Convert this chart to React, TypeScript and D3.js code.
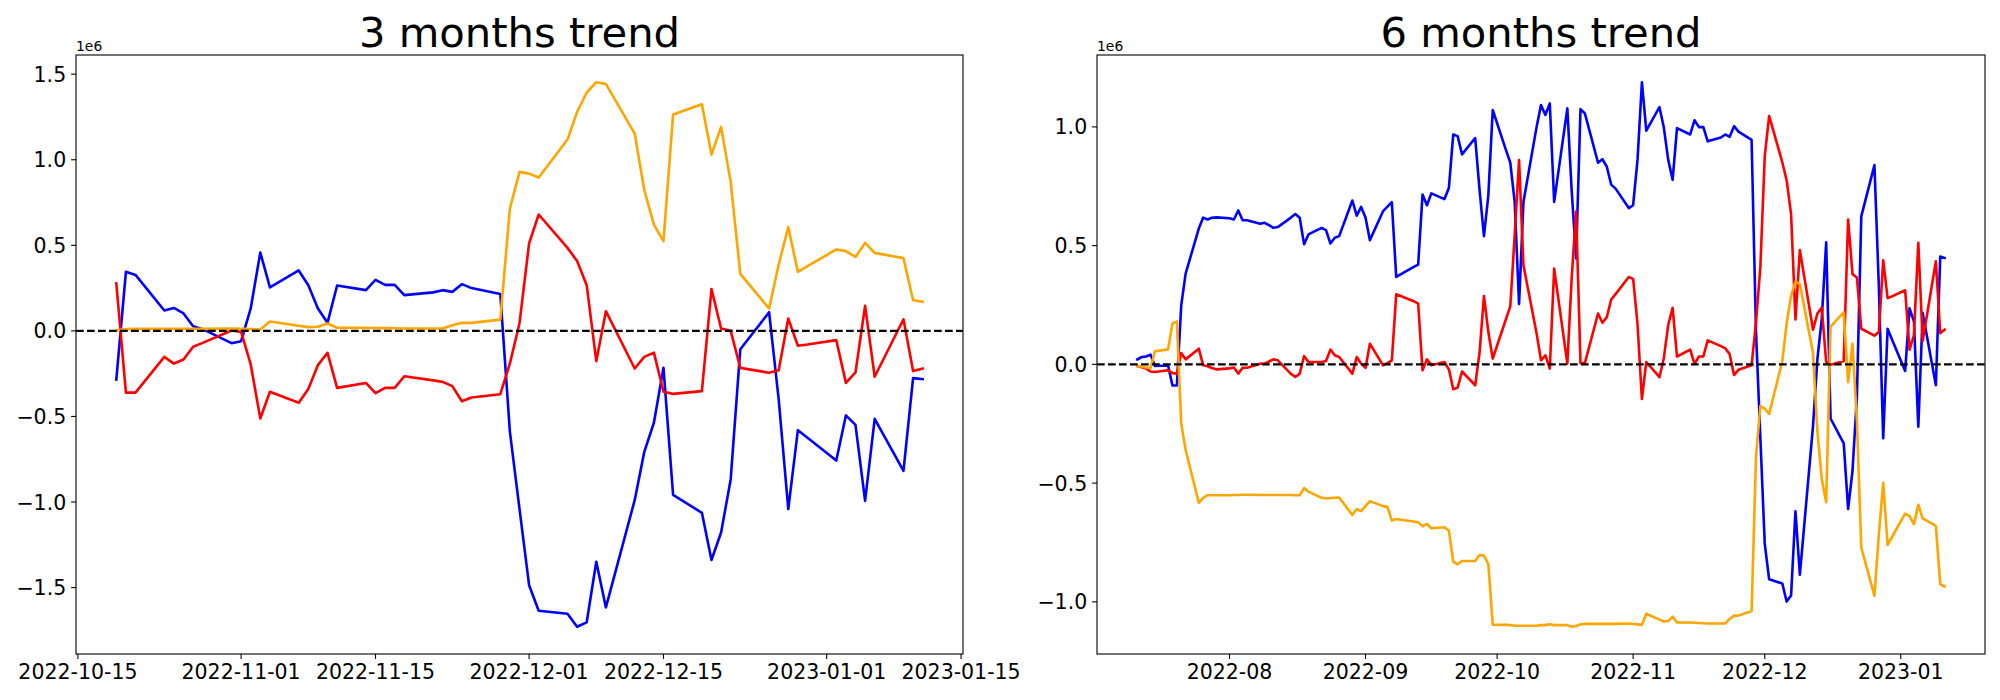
import React from "react";
import * as d3 from "d3";

// values are in units of 1e6
const dates6Early = [
  "2022-07-11","2022-07-12","2022-07-13","2022-07-14","2022-07-15",
  "2022-07-18","2022-07-19","2022-07-20","2022-07-21","2022-07-22",
  "2022-07-25","2022-07-26","2022-07-27","2022-07-28","2022-07-29",
  "2022-08-01","2022-08-02","2022-08-03","2022-08-04","2022-08-05",
  "2022-08-08","2022-08-09","2022-08-10","2022-08-11","2022-08-12",
  "2022-08-15","2022-08-16","2022-08-17","2022-08-18","2022-08-19",
  "2022-08-22","2022-08-23","2022-08-24","2022-08-25","2022-08-26",
  "2022-08-29","2022-08-30","2022-08-31","2022-09-01","2022-09-02",
  "2022-09-05","2022-09-06","2022-09-07","2022-09-08","2022-09-09",
  "2022-09-12","2022-09-13","2022-09-14","2022-09-15","2022-09-16",
  "2022-09-19","2022-09-20","2022-09-21","2022-09-22","2022-09-23",
  "2022-09-26","2022-09-27","2022-09-28","2022-09-29","2022-09-30",
  "2022-10-03","2022-10-04","2022-10-05","2022-10-06","2022-10-07",
  "2022-10-10","2022-10-11","2022-10-12","2022-10-13","2022-10-14",
  "2022-10-17","2022-10-18",
];

const dates3 = [
  "2022-10-19","2022-10-20","2022-10-21",
  "2022-10-24","2022-10-25","2022-10-26","2022-10-27","2022-10-28",
  "2022-10-31","2022-11-01","2022-11-02","2022-11-03","2022-11-04",
  "2022-11-07","2022-11-08","2022-11-09","2022-11-10","2022-11-11",
  "2022-11-14","2022-11-15","2022-11-16","2022-11-17","2022-11-18",
  "2022-11-21","2022-11-22","2022-11-23","2022-11-24","2022-11-25",
  "2022-11-28","2022-11-29","2022-11-30","2022-12-01","2022-12-02",
  "2022-12-05","2022-12-06","2022-12-07","2022-12-08","2022-12-09",
  "2022-12-12","2022-12-13","2022-12-14","2022-12-15","2022-12-16",
  "2022-12-19","2022-12-20","2022-12-21","2022-12-22","2022-12-23",
  "2022-12-26","2022-12-27","2022-12-28","2022-12-29","2022-12-30",
  "2023-01-02","2023-01-03","2023-01-04","2023-01-05","2023-01-06",
  "2023-01-09","2023-01-10","2023-01-11",
];

const dates6 = [...dates6Early, ...dates3];

const blue3 = [
  -0.284,0.345,0.327,0.119,0.134,0.102,0.027,0.010,-0.072,-0.060,
  0.131,0.458,0.254,0.353,0.267,0.131,0.047,0.265,0.238,0.298,
  0.269,0.269,0.209,0.225,0.238,0.228,0.273,0.250,0.215,-0.590,
  -1.040,-1.486,-1.635,-1.653,-1.729,-1.703,-1.349,-1.616,-0.989,-0.707,
  -0.537,-0.216,-0.958,-1.063,-1.339,-1.178,-0.868,-0.107,0.109,-0.400,
  -1.041,-0.580,-0.625,-0.758,-0.494,-0.549,-0.993,-0.514,-0.818,-0.276,
  -0.282,
];
const red3 = [
  0.277,-0.361,-0.361,-0.152,-0.191,-0.167,-0.093,-0.070,0.002,-0.006,
  -0.196,-0.512,-0.356,-0.420,-0.339,-0.200,-0.128,-0.333,-0.304,-0.364,
  -0.333,-0.333,-0.265,-0.289,-0.298,-0.323,-0.411,-0.389,-0.370,-0.190,
  0.045,0.511,0.680,0.485,0.408,0.267,-0.177,0.115,-0.220,-0.152,
  -0.127,-0.356,-0.368,-0.352,0.244,0.014,0.000,-0.216,-0.245,-0.230,
  0.072,-0.087,-0.080,-0.054,-0.304,-0.243,0.146,-0.268,0.068,-0.235,
  -0.220,
];
const orange3 = [
  0.003,0.010,0.012,0.012,0.012,0.012,0.012,0.012,0.014,0.012,
  0.010,0.008,0.055,0.030,0.022,0.024,0.043,0.018,0.018,0.017,
  0.016,0.015,0.014,0.014,0.014,0.033,0.047,0.047,0.066,0.715,
  0.929,0.919,0.896,1.118,1.279,1.393,1.453,1.443,1.153,0.822,
  0.621,0.524,1.264,1.324,1.030,1.192,0.870,0.333,0.131,0.388,
  0.606,0.345,0.378,0.476,0.466,0.432,0.514,0.456,0.425,0.179,
  0.170,
];

const blue6 = [
  0.021,0.031,0.033,0.041,-0.007,-0.005,-0.089,-0.089,0.249,0.382,
  0.572,0.618,0.610,0.617,0.619,
  0.615,0.610,0.648,0.607,0.607,0.592,0.596,0.586,0.575,0.578,
  0.618,0.633,0.617,0.506,0.547,0.575,0.565,0.509,0.533,0.540,
  0.690,0.626,0.663,
  0.618,0.523,0.645,0.664,0.683,0.368,0.379,0.410,0.420,0.715,
  0.670,0.720,0.696,0.743,0.968,0.961,0.884,0.953,0.734,0.540,
  0.713,1.071,
  0.903,0.849,0.684,0.254,0.684,1.000,1.092,1.050,1.099,0.684,
  1.078,0.730,
  0.446,1.075,1.057,0.849,0.864,0.832,0.757,0.740,0.658,0.670,
  0.861,1.188,0.984,1.083,0.997,0.861,0.777,0.995,0.968,1.028,
  0.999,0.999,0.939,0.955,0.968,0.958,1.003,0.980,0.945,0.140,
  -0.310,-0.756,-0.905,-0.923,-0.999,-0.973,-0.619,-0.886,-0.259,0.023,
  0.193,0.514,-0.228,-0.333,-0.609,-0.448,-0.138,0.623,0.839,0.330,
  -0.311,0.150,0.105,-0.028,0.236,0.181,-0.263,0.216,-0.088,0.454,
  0.448,
];
const red6 = [
  -0.007,-0.012,-0.018,-0.030,-0.032,-0.025,-0.037,-0.039,0.048,0.021,
  0.066,-0.004,-0.008,-0.015,-0.021,
  -0.017,-0.013,-0.039,-0.014,-0.014,0.003,0.003,0.012,0.021,0.017,
  -0.040,-0.053,-0.039,0.035,0.010,0.010,0.014,0.062,0.038,0.031,
  -0.039,0.031,0.003,
  -0.015,0.087,-0.004,0.005,0.017,0.295,0.288,0.266,0.256,-0.025,
  0.021,-0.004,0.010,-0.021,-0.105,-0.098,-0.030,-0.088,0.050,0.288,
  0.136,0.024,
  0.190,0.244,0.544,0.860,0.417,0.130,0.017,0.038,-0.018,0.403,
  0.003,0.366,
  0.643,0.005,0.005,0.214,0.175,0.199,0.273,0.296,0.368,0.360,
  0.170,-0.146,0.010,-0.054,0.027,0.166,0.238,0.033,0.062,0.002,
  0.033,0.033,0.101,0.077,0.068,0.043,-0.045,-0.023,-0.004,0.176,
  0.411,0.877,1.046,0.851,0.774,0.633,0.189,0.481,0.146,0.214,
  0.239,0.010,-0.002,0.014,0.610,0.380,0.366,0.150,0.121,0.136,
  0.438,0.279,0.286,0.312,0.062,0.123,0.512,0.098,0.434,0.131,
  0.146,
];
const orange6 = [
  -0.007,-0.010,-0.013,-0.016,0.055,0.063,0.172,0.181,-0.250,-0.360,
  -0.583,-0.562,-0.551,-0.551,-0.551,
  -0.551,-0.550,-0.550,-0.549,-0.549,-0.550,-0.550,-0.550,-0.550,-0.550,
  -0.550,-0.551,-0.551,-0.521,-0.536,-0.562,-0.564,-0.563,-0.562,-0.561,
  -0.634,-0.609,-0.618,
  -0.597,-0.576,-0.597,-0.600,-0.658,-0.651,-0.654,-0.662,-0.665,-0.682,
  -0.672,-0.690,-0.686,-0.700,-0.831,-0.842,-0.828,-0.828,-0.803,-0.805,
  -0.841,-1.096,
  -1.097,-1.098,-1.101,-1.101,-1.101,-1.101,-1.098,-1.098,-1.094,-1.098,
  -1.098,-1.105,
  -1.102,-1.095,-1.093,-1.093,-1.093,-1.093,-1.093,-1.093,-1.091,-1.093,
  -1.095,-1.097,-1.050,-1.075,-1.083,-1.081,-1.062,-1.087,-1.087,-1.088,
  -1.089,-1.090,-1.091,-1.091,-1.091,-1.072,-1.058,-1.058,-1.039,-0.390,
  -0.176,-0.186,-0.209,0.013,0.174,0.288,0.348,0.338,0.048,-0.283,
  -0.484,-0.581,0.159,0.219,-0.075,0.087,-0.235,-0.772,-0.974,-0.717,
  -0.499,-0.760,-0.727,-0.629,-0.639,-0.673,-0.591,-0.649,-0.680,-0.926,
  -0.935,
];

const xTicks3 = ["2022-10-15","2022-11-01","2022-11-15","2022-12-01","2022-12-15","2023-01-01","2023-01-15"];
const xTicks6 = ["2022-08-01","2022-09-01","2022-10-01","2022-11-01","2022-12-01","2023-01-01"];
const yTicks3 = [-1.5, -1.0, -0.5, 0, 0.5, 1.0, 1.5];
const yTicks6 = [-1.0, -0.5, 0, 0.5, 1.0];
const seriesColors = ["blue", "red", "orange"];

const parse = d3.utcParse("%Y-%m-%d");
const FONT = "DejaVu Sans, sans-serif";

type PanelProps = {
  title: string;
  left: number;
  right: number;
  top: number;
  bottom: number;
  dates: string[];
  series: number[][];
  xTicks: string[];
  xFmt: string;
  yTicks: number[];
};

function Panel({ title, left, right, top, bottom, dates, series, xTicks, xFmt, yTicks }: PanelProps) {
  const ds = dates.map((s) => parse(s) as Date);
  const [t0, t1] = d3.extent(ds) as [Date, Date];
  const span = +t1 - +t0;
  const x = d3
    .scaleUtc()
    .domain([new Date(+t0 - span * 0.05), new Date(+t1 + span * 0.05)])
    .range([left, right]);
  const all = series.flat();
  const [lo, hi] = d3.extent(all) as [number, number];
  const pad = (hi - lo) * 0.05;
  const y = d3.scaleLinear().domain([lo - pad, hi + pad]).range([bottom, top]);
  const line = d3
    .line<number>()
    .x((_, i) => x(ds[i]))
    .y((d) => y(d));
  const fmtX = d3.utcFormat(xFmt);
  const fmtY = d3.format(".1f");
  const tickLen = 4.9;
  return (
    <g>
      <text
        x={(left + right) / 2}
        y={top - 8.3}
        textAnchor="middle"
        fontSize={41.7}
        fontFamily={FONT}
        fill="#000"
      >
        {title}
      </text>
      <text x={left} y={top - 4} fontSize={13.9} fontFamily={FONT} fill="#000">
        1e6
      </text>
      <clipPath id={`clip-${left}`}>
        <rect x={left} y={top} width={right - left} height={bottom - top} />
      </clipPath>
      <g clipPath={`url(#clip-${left})`}>
        {series.map((s, k) => (
          <path
            key={k}
            d={line(s) || ""}
            fill="none"
            stroke={seriesColors[k]}
            strokeWidth={2.6}
            strokeLinejoin="round"
            strokeLinecap="square"
          />
        ))}
        <line
          x1={left}
          x2={right}
          y1={y(0)}
          y2={y(0)}
          stroke="#000"
          strokeWidth={2.1}
          strokeDasharray="7.7,3.3"
        />
      </g>
      <rect
        x={left}
        y={top}
        width={right - left}
        height={bottom - top}
        fill="none"
        stroke="#000"
        strokeWidth={1.1}
      />
      {xTicks.map((t) => {
        const d = parse(t) as Date;
        const px = x(d);
        return (
          <g key={t}>
            <line x1={px} x2={px} y1={bottom} y2={bottom + tickLen} stroke="#000" strokeWidth={1.1} />
            <text
              x={px}
              y={bottom + tickLen + 4.9 + 15.1}
              textAnchor="middle"
              fontSize={20.5}
              fontFamily={FONT}
              fill="#000"
            >
              {fmtX(d)}
            </text>
          </g>
        );
      })}
      {yTicks.map((t) => {
        const py = y(t);
        return (
          <g key={t}>
            <line x1={left - tickLen} x2={left} y1={py} y2={py} stroke="#000" strokeWidth={1.1} />
            <text
              x={left - tickLen - 4.9}
              y={py + 7.5}
              textAnchor="end"
              fontSize={20.5}
              fontFamily={FONT}
              fill="#000"
            >
              {fmtY(t)}
            </text>
          </g>
        );
      })}
    </g>
  );
}

export default function App() {
  return (
    <svg
      width={2000}
      height={700}
      style={{ position: "absolute", left: 0, top: 0, background: "#fff" }}
    >
      <rect x={0} y={0} width={2000} height={700} fill="#fff" />
      <Panel
        title="3 months trend"
        left={76}
        right={963}
        top={55}
        bottom={654}
        dates={dates3}
        series={[blue3, red3, orange3]}
        xTicks={xTicks3}
        xFmt="%Y-%m-%d"
        yTicks={yTicks3}
      />
      <Panel
        title="6 months trend"
        left={1097}
        right={1985}
        top={55}
        bottom={654}
        dates={dates6}
        series={[blue6, red6, orange6]}
        xTicks={xTicks6}
        xFmt="%Y-%m"
        yTicks={yTicks6}
      />
    </svg>
  );
}
